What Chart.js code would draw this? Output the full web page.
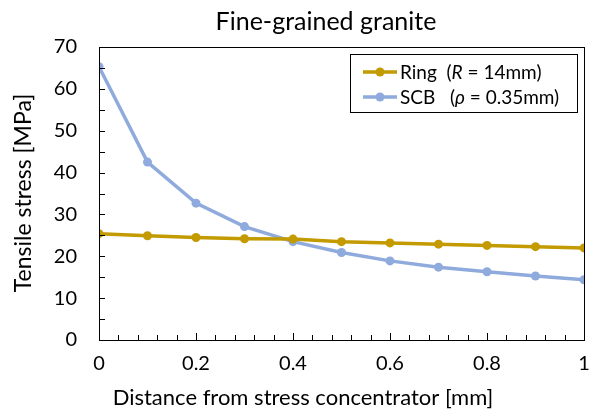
<!DOCTYPE html>
<html>
<head>
<meta charset="utf-8">
<script src="https://cdn.jsdelivr.net/npm/chart.js@4.4.1/dist/chart.umd.min.js"></script>
<style>
  html, body { margin: 0; padding: 0; background: #ffffff; }
  #wrap { width: 589px; height: 414px; }
</style>
</head>
<body>
<div id="wrap"><canvas id="c" width="589" height="414"></canvas></div>
<script>
// Distance from the stress concentrator [mm]
const distance = [0, 0.1, 0.2, 0.3, 0.4, 0.5, 0.6, 0.7, 0.8, 0.9, 1.0];
// Tensile stress [MPa] for each specimen type
const ringStress = [25.4, 24.9, 24.5, 24.2, 24.1, 23.5, 23.2, 22.9, 22.6, 22.3, 22.0];
const scbStress  = [65.3, 42.5, 32.7, 27.1, 23.5, 20.9, 18.9, 17.4, 16.3, 15.3, 14.4];
// Axis tick labels
const yTickValues = [0, 10, 20, 30, 40, 50, 60, 70];
const xTickValues = [0, 0.2, 0.4, 0.6, 0.8, 1];

const FONT = 'Lato, "Liberation Sans", sans-serif';
const RING_COLOR = '#C39A00';
const SCB_COLOR = '#8FAADC';

const toPoints = (xs, ys) => xs.map((x, i) => ({ x, y: ys[i] }));

// Frame, inward tick marks, titles and the boxed legend
const decorations = {
  id: 'decorations',
  afterDraw(chart) {
    const { ctx, chartArea: a, scales } = chart;
    const xs = scales.x, ys = scales.y;
    ctx.save();
    ctx.strokeStyle = '#000000';
    ctx.lineWidth = 1;

    // plot frame
    ctx.strokeRect(Math.round(a.left) + 0.5, Math.round(a.top) + 0.5,
                   Math.round(a.right - a.left), Math.round(a.bottom - a.top));

    // y ticks every 5 MPa, pointing inward
    ctx.beginPath();
    for (let v = 0; v <= 70; v += 5) {
      const py = Math.round(ys.getPixelForValue(v)) + 0.5;
      ctx.moveTo(a.left, py);
      ctx.lineTo(a.left + 6, py);
    }
    // x ticks every 0.04 mm, longer at each labelled value
    for (let k = 0; k <= 25; k++) {
      const px = Math.round(xs.getPixelForValue(k * 0.04)) + 0.5;
      const len = (k % 5 === 0) ? 7 : 5;
      ctx.moveTo(px, a.bottom);
      ctx.lineTo(px, a.bottom - len);
    }
    ctx.stroke();

    ctx.fillStyle = '#000000';
    // chart title
    ctx.font = '25px ' + FONT;
    ctx.textAlign = 'center';
    ctx.textBaseline = 'alphabetic';
    ctx.fillText('Fine-grained granite', 326, 30);

    // x axis title
    ctx.font = '22px ' + FONT;
    ctx.fillText('Distance from stress concentrator [mm]', 303, 405);

    // y axis title
    ctx.save();
    ctx.translate(31, 193);
    ctx.rotate(-Math.PI / 2);
    ctx.font = '23px ' + FONT;
    ctx.fillText('Tensile stress [MPa]', 0, 0);
    ctx.restore();

    // legend box
    const box = { l: 350, t: 54, r: 577, b: 112 };
    ctx.strokeStyle = '#000000';
    ctx.strokeRect(box.l + 0.5, box.t + 0.5, box.r - box.l, box.b - box.t);

    const rows = [
      { ds: chart.data.datasets[0], y: 72, parts: [['Ring  (', false], ['R', true], [' = 14mm)', false]] },
      { ds: chart.data.datasets[1], y: 97, parts: [['SCB   (', false], ['\u03C1', true], [' = 0.35mm)', false]] }
    ];
    rows.forEach(row => {
      ctx.strokeStyle = row.ds.borderColor;
      ctx.lineWidth = 3.5;
      ctx.beginPath();
      ctx.moveTo(363, row.y);
      ctx.lineTo(397, row.y);
      ctx.stroke();
      ctx.fillStyle = row.ds.backgroundColor;
      ctx.beginPath();
      ctx.arc(380, row.y, 4.5, 0, Math.PI * 2);
      ctx.fill();

      ctx.fillStyle = '#000000';
      ctx.textAlign = 'left';
      ctx.textBaseline = 'middle';
      let x = 400;
      row.parts.forEach(([txt, italic]) => {
        ctx.font = (italic ? 'italic ' : '') + '19px ' + FONT;
        ctx.fillText(txt, x, row.y + 1);
        x += ctx.measureText(txt).width;
      });
    });
    ctx.restore();
  }
};

new Chart(document.getElementById('c'), {
  type: 'line',
  data: {
    datasets: [
      {
        label: 'Ring (R = 14mm)',
        data: toPoints(distance, ringStress),
        borderColor: RING_COLOR,
        backgroundColor: RING_COLOR,
        borderWidth: 3.5,
        pointRadius: 4.5,
        pointBorderWidth: 0,
        pointBackgroundColor: RING_COLOR,
        tension: 0
      },
      {
        label: 'SCB (\u03C1 = 0.35mm)',
        data: toPoints(distance, scbStress),
        borderColor: SCB_COLOR,
        backgroundColor: SCB_COLOR,
        borderWidth: 3.5,
        pointRadius: 4.5,
        pointBorderWidth: 0,
        pointBackgroundColor: SCB_COLOR,
        tension: 0
      }
    ]
  },
  options: {
    responsive: false,
    animation: false,
    layout: { padding: { top: 47, right: 5, left: 0, bottom: 0 } },
    plugins: {
      legend: { display: false },
      title: { display: false },
      tooltip: { enabled: false }
    },
    scales: {
      x: {
        type: 'linear',
        min: 0,
        max: 1,
        afterFit(scale) {
          scale.height = 74;
          scale.paddingLeft = 0;
          scale.paddingRight = 0;
        },
        afterBuildTicks(scale) { scale.ticks = xTickValues.map(v => ({ value: v })); },
        grid: { display: false, drawTicks: false },
        border: { display: false },
        ticks: {
          padding: 12,
          color: '#000000',
          font: { family: FONT, size: 20 },
          maxRotation: 0,
          callback: v => String(v)
        }
      },
      y: {
        min: 0,
        max: 70,
        afterFit(scale) {
          scale.width = 99;
          scale.paddingTop = 0;
          scale.paddingBottom = 0;
        },
        afterBuildTicks(scale) { scale.ticks = yTickValues.map(v => ({ value: v })); },
        grid: { display: false, drawTicks: false },
        border: { display: false },
        ticks: {
          padding: 22,
          color: '#000000',
          font: { family: FONT, size: 20 },
          callback: v => String(v)
        }
      }
    }
  },
  plugins: [decorations]
});
</script>
</body>
</html>
